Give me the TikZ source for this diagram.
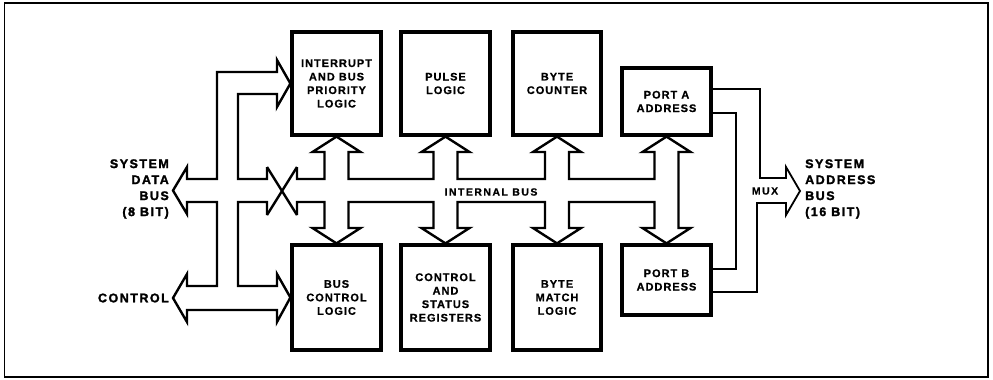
\documentclass[tikz,border=0pt]{standalone}
\usepackage{fontspec}
\newfontfamily\boxfont[LetterSpace=9,BoldFeatures={FakeBold=0.8}]{Liberation Sans}
\newfontfamily\heavyfont[LetterSpace=12,BoldFeatures={FakeBold=1.8}]{Liberation Sans}
\newfontfamily\smallfont[LetterSpace=14,BoldFeatures={FakeBold=0.5}]{Liberation Sans}
\tikzset{
  blk/.style={draw, line width=3.2pt, align=center, inner sep=0pt,
    font=\boxfont\bfseries\fontsize{11}{13.5}\selectfont},
  bus/.style={line width=2.4pt, line join=miter},
  wire/.style={line width=1.8pt, line join=miter},
  frame/.style={line width=1.3pt},
  heavy/.style={inner sep=0pt, font=\heavyfont\bfseries\fontsize{12.5}{16}\selectfont},
  small/.style={inner sep=0pt, font=\smallfont\bfseries\fontsize{10.5}{12}\selectfont},
}
\begin{document}
\begin{tikzpicture}[x=1pt,y=-1pt]
\useasboundingbox (0,0) rectangle (993,380);
\draw[frame] (4.5,3) rectangle (988,377);

% boxes
\node[blk, minimum width=89pt, minimum height=103pt] (intr) at (336.5,83.5) {INTERRUPT\\AND BUS\\PRIORITY\\LOGIC};
\node[blk, minimum width=89pt, minimum height=103pt] (pulse) at (445.5,83.5) {PULSE\\LOGIC};
\node[blk, minimum width=88pt, minimum height=103pt] (bcnt) at (557,83.5) {BYTE\\COUNTER};
\node[blk, minimum width=89pt, minimum height=67pt] (pa) at (666.5,101.5) {PORT A\\ADDRESS};
\node[blk, minimum width=89pt, minimum height=105pt] (bcl) at (336.5,297.5) {BUS\\CONTROL\\LOGIC};
\node[blk, minimum width=89pt, minimum height=105pt] (csr) at (445.5,297.5) {CONTROL\\AND\\STATUS\\REGISTERS};
\node[blk, minimum width=88pt, minimum height=105pt] (bml) at (557,297.5) {BYTE\\MATCH\\LOGIC};
\node[blk, minimum width=89pt, minimum height=70pt] (pb) at (666.5,280) {PORT B\\ADDRESS};

% internal bus
\draw[bus] (297,167) -- (297,179)
  -- (324.5,179) -- (324.5,152) -- (312.5,152) -- (intr.south) -- (360.5,152) -- (348.5,152) -- (348.5,179)
  -- (433.5,179) -- (433.5,152) -- (421.5,152) -- (pulse.south) -- (469.5,152) -- (457.5,152) -- (457.5,179)
  -- (545,179) -- (545,152) -- (533,152) -- (bcnt.south) -- (581,152) -- (569,152) -- (569,179)
  -- (654.5,179) -- (654.5,152) -- (642.5,152) -- (pa.south) -- (690.5,152) -- (678.5,152)
  -- (678.5,228) -- (690.5,228) -- (pb.north) -- (642.5,228) -- (654.5,228) -- (654.5,202)
  -- (569,202) -- (569,228) -- (581,228) -- (bml.north) -- (533,228) -- (545,228) -- (545,202)
  -- (457.5,202) -- (457.5,228) -- (469.5,228) -- (csr.north) -- (421.5,228) -- (433.5,228) -- (433.5,202)
  -- (348.5,202) -- (348.5,228) -- (360.5,228) -- (bcl.north) -- (312.5,228) -- (324.5,228) -- (324.5,202)
  -- (297,202) -- (297,215);

% crossover
\draw[bus] (267,167) -- (297,215);
\draw[bus] (297,167) -- (267,215);

% system data bus and control bus
\draw[bus] (267,167) -- (267,179) -- (238,179) -- (238,94) -- (277,94) -- (277,107) -- (intr.west)
  -- (277,60) -- (277,72) -- (217,72) -- (217,179) -- (187,179) -- (187,167) -- (173,190.5)
  -- (187,214) -- (187,202) -- (217,202) -- (217,286) -- (187,286) -- (187,274) -- (173,298)
  -- (187,322) -- (187,310) -- (277,310) -- (277,322) -- (bcl.west) -- (277,274) -- (277,286)
  -- (238,286) -- (238,202) -- (267,202) -- (267,215);

% mux wires
\draw[wire] (711,89) -- (760,89) -- (760,178) -- (786,178) -- (786,167) -- (800,191)
  -- (786,215) -- (786,203) -- (757,203) -- (757,292) -- (711,292);
\draw[wire] (711,113) -- (736,113) -- (736,269) -- (711,269);

% labels
\node[heavy, anchor=east, align=right] (sdb) at (169,189) {SYSTEM\\DATA\\BUS\\(8 BIT)};
\node[heavy, anchor=east] (ctl) at (169,298) {CONTROL};
\node[heavy, anchor=west, align=left] (sab) at (805,189) {SYSTEM\\ADDRESS\\BUS\\(16 BIT)};
\node[small] (ib) at (491,192) {INTERNAL BUS};
\node[small] (mux) at (765,191) {MUX};
\end{tikzpicture}
\end{document}
